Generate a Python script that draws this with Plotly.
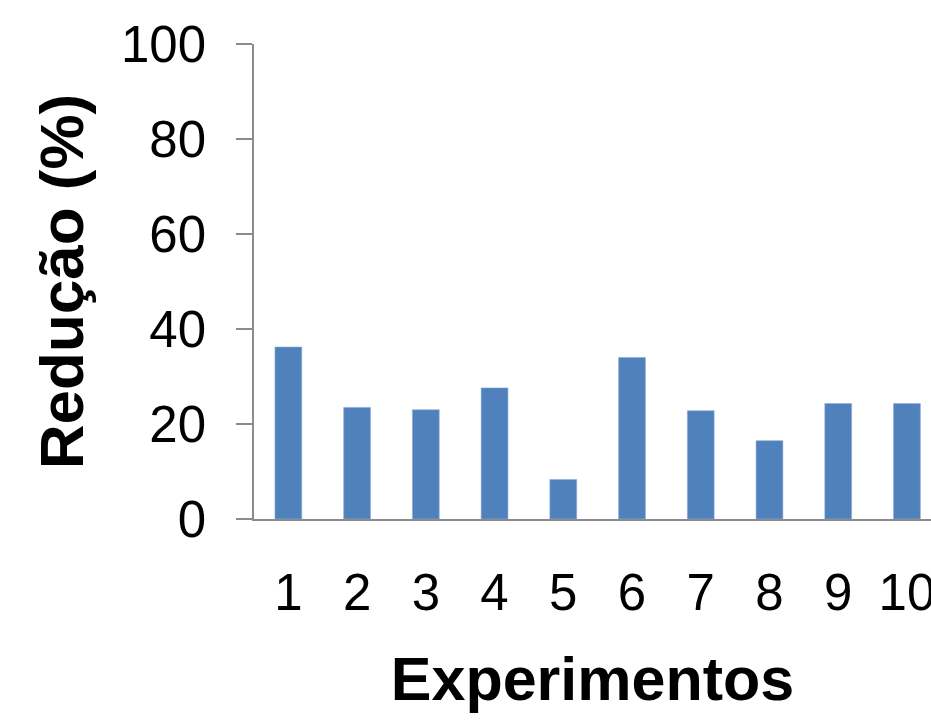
import plotly.graph_objects as go

# Redução (%) per experiment
experimentos = ["1", "2", "3", "4", "5", "6", "7", "8", "9", "10"]
reducao = [36.2, 23.5, 23.0, 27.6, 8.3, 34.0, 22.8, 16.5, 24.3, 24.3]
y_ticks = [0, 20, 40, 60, 80, 100]

FONT = "Liberation Sans, Arial, sans-serif"
AXIS_GRAY = "#8c8c8c"

fig = go.Figure(
    go.Bar(
        x=experimentos,
        y=reducao,
        marker=dict(color="#4F81BD", line=dict(color="#8eaad6", width=0.6)),
    )
)

fig.update_layout(
    width=931,
    height=721,
    margin=dict(l=253.5, r=0, t=44.3, b=201.7, autoexpand=False),
    plot_bgcolor="white",
    paper_bgcolor="white",
    bargap=0.61,
    showlegend=False,
    font=dict(family=FONT, color="black"),
)

fig.update_xaxes(
    type="category",
    range=[-0.5, 9.35],
    showline=True,
    linecolor=AXIS_GRAY,
    linewidth=1.5,
    ticks="",
    showgrid=False,
    zeroline=False,
    tickfont=dict(size=51, family=FONT, color="black"),
    ticklabelstandoff=28,
    automargin=False,
    title=dict(
        text="<b>Experimentos</b>",
        font=dict(size=61, family=FONT, color="black"),
        standoff=37,
    ),
)

fig.update_yaxes(
    range=[0, 100],
    tickvals=y_ticks,
    showline=True,
    linecolor=AXIS_GRAY,
    linewidth=1.5,
    ticks="outside",
    ticklen=16,
    tickcolor=AXIS_GRAY,
    tickwidth=1.5,
    showgrid=False,
    zeroline=False,
    tickfont=dict(size=51, family=FONT, color="black"),
    ticklabelstandoff=20,
    automargin=False,
    title=dict(
        text="<b>Redução (%)</b>",
        font=dict(size=62, family=FONT, color="black"),
        standoff=17,
    ),
)

fig.write_html("out.html")
